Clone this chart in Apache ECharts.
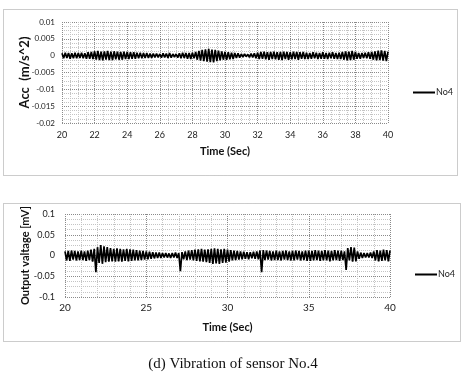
<!DOCTYPE html>
<html lang="en">
<head>
    <meta charset="utf-8">
    <title>Vibration of sensor No.4</title>
    <script src="https://cdn.jsdelivr.net/npm/echarts@6/dist/echarts.min.js"></script>
</head>
<body style="margin:0;background:#fff">
<div id="main" style="width:466px;height:378px"></div>
<script type="text/javascript">
    // sampling of both records
    var t0 = 20, dt = 0.1;

    // acceleration record, m/s^2 (peaks and troughs)
    var accNo4 = [
        0.0007,-0.0008,0.0009,-0.0007,0.0008,-0.0009,0.0007,-0.0008,0.0009,-0.0008,
        0.0008,-0.0007,0.0009,-0.0008,0.0007,-0.0009,0.0010,-0.0009,0.0011,-0.0010,
        0.0013,-0.0012,0.0014,-0.0013,0.0012,-0.0014,0.0013,-0.0012,0.0014,-0.0013,
        0.0012,-0.0013,0.0013,-0.0011,0.0012,-0.0012,0.0011,-0.0012,0.0012,-0.0010,
        0.0011,-0.0010,0.0010,-0.0009,0.0010,-0.0009,0.0009,-0.0008,0.0009,-0.0008,
        0.0008,-0.0007,0.0008,-0.0007,0.0006,-0.0007,0.0006,-0.0005,0.0006,-0.0005,
        0.0005,-0.0006,0.0007,-0.0005,0.0006,-0.0007,0.0008,-0.0006,0.0005,-0.0004,
        0.0005,-0.0006,0.0007,-0.0008,0.0009,-0.0007,0.0008,-0.0009,0.0008,-0.0010,
        0.0009,-0.0008,0.0011,-0.0012,0.0014,-0.0015,0.0017,-0.0016,0.0019,-0.0018,
        0.0020,-0.0019,0.0018,-0.0020,0.0017,-0.0016,0.0015,-0.0014,0.0013,-0.0012,
        0.0011,-0.0012,0.0010,-0.0011,0.0009,-0.0010,0.0008,-0.0007,0.0007,-0.0006,
        0.0005,-0.0004,0.0005,-0.0003,0.0004,-0.0005,0.0006,-0.0005,0.0007,-0.0008,
        0.0009,-0.0010,0.0011,-0.0009,0.0012,-0.0011,0.0010,-0.0012,0.0011,-0.0010,
        0.0012,-0.0011,0.0010,-0.0012,0.0011,-0.0013,0.0012,-0.0010,0.0011,-0.0012,
        0.0010,-0.0011,0.0012,-0.0010,0.0011,-0.0012,0.0010,-0.0009,0.0011,-0.0010,
        0.0009,-0.0010,0.0008,-0.0009,0.0010,-0.0008,0.0009,-0.0010,0.0008,-0.0009,
        0.0010,-0.0009,0.0008,-0.0010,0.0009,-0.0008,0.0010,-0.0009,0.0008,-0.0010,
        0.0009,-0.0010,0.0011,-0.0012,0.0013,-0.0014,0.0012,-0.0013,0.0014,-0.0012,
        0.0011,-0.0009,0.0008,-0.0009,0.0008,-0.0007,0.0009,-0.0008,0.0010,-0.0009,
        0.0011,-0.0012,0.0013,-0.0014,0.0015,-0.0013,0.0016,-0.0015,0.0014,-0.0016,
        0.0012
    ];

    // sensor output record, mV
    var voltNo4 = [
        0.010,-0.012,0.011,-0.013,0.012,-0.010,0.011,-0.012,0.010,-0.011,
        0.012,-0.011,0.010,-0.013,0.012,-0.011,0.014,-0.015,0.016,-0.040,
        0.020,-0.018,0.025,-0.020,0.022,-0.016,0.020,-0.015,0.018,-0.014,
        0.016,-0.015,0.017,-0.014,0.016,-0.015,0.015,-0.013,0.016,-0.014,
        0.015,-0.013,0.014,-0.012,0.013,-0.012,0.012,-0.011,0.011,-0.010,
        0.010,-0.009,0.009,-0.008,0.008,-0.007,0.007,-0.006,0.007,-0.006,
        0.006,-0.005,0.006,-0.005,0.005,-0.006,0.006,-0.005,0.007,-0.006,
        0.006,-0.038,0.008,-0.009,0.010,-0.011,0.012,-0.010,0.013,-0.012,
        0.014,-0.013,0.015,-0.014,0.016,-0.015,0.014,-0.016,0.015,-0.018,
        0.016,-0.020,0.017,-0.019,0.016,-0.020,0.015,-0.018,0.016,-0.017,
        0.014,-0.015,0.013,-0.012,0.012,-0.011,0.011,-0.010,0.010,-0.009,
        0.009,-0.008,0.008,-0.009,0.008,-0.007,0.009,-0.008,0.010,-0.009,
        0.012,-0.040,0.013,-0.011,0.012,-0.010,0.011,-0.012,0.010,-0.011,
        0.012,-0.011,0.010,-0.012,0.011,-0.010,0.012,-0.011,0.010,-0.012,
        0.011,-0.012,0.012,-0.010,0.011,-0.012,0.010,-0.011,0.012,-0.013,
        0.012,-0.013,0.011,-0.012,0.013,-0.011,0.012,-0.013,0.011,-0.012,
        0.013,-0.012,0.012,-0.014,0.011,-0.012,0.013,-0.011,0.012,-0.013,
        0.012,-0.011,0.010,-0.035,0.018,-0.012,0.020,-0.015,0.019,-0.014,
        0.010,-0.008,0.007,-0.006,0.006,-0.005,0.006,-0.005,0.007,-0.006,
        0.010,-0.012,0.013,-0.014,0.012,-0.013,0.014,-0.012,0.013,-0.014,
        0.012
    ];

    var seriesName = 'No4';
    var caption = '(d) Vibration of sensor No.4';

    function pairs(vals) {
        var out = [];
        for (var i = 0; i < vals.length; i++) {
            out.push([+(t0 + i * dt).toFixed(1), vals[i]]);
        }
        return out;
    }

    var font = 'Lato, "Open Sans", sans-serif';
    var majorLine = {show: true, lineStyle: {color: '#8a8a8a', type: 'dotted', width: 1}};
    var minorLine = {show: true, lineStyle: {color: '#c4c4c4', type: 'dotted', width: 1}};
    var tickLbl = {color: '#222', fontFamily: font, fontSize: 9};
    var nameLbl = {color: '#111', fontFamily: font, fontSize: 11, fontWeight: 'bold'};

    var myChart = echarts.init(document.getElementById('main'));

    var option = {
        backgroundColor: '#fff',
        animation: false,
        title: {
            text: caption,
            left: 'center',
            top: 352,
            textStyle: {fontFamily: '"Liberation Serif", serif', fontSize: 15, fontWeight: 'normal', color: '#111'}
        },
        graphic: [
            {type: 'rect', shape: {x: 3.5, y: 9.5, width: 454, height: 166},
                style: {fill: null, stroke: '#999', lineWidth: 1, lineDash: [1, 1]}},
            {type: 'rect', shape: {x: 3.5, y: 203.5, width: 457, height: 138},
                style: {fill: null, stroke: '#999', lineWidth: 1, lineDash: [1, 1]}}
        ],
        legend: [
            {data: [seriesName], left: 408, top: 83, icon: 'rect', itemWidth: 22, itemHeight: 2,
                itemGap: 0, textStyle: {fontFamily: font, fontSize: 9, color: '#222', padding: [0, 0, 0, -4]}},
            {data: [{name: seriesName + ' '}], left: 410, top: 265, icon: 'rect', itemWidth: 22, itemHeight: 2,
                itemGap: 0, textStyle: {fontFamily: font, fontSize: 9, color: '#222', padding: [0, 0, 0, -4]}}
        ],
        grid: [
            {left: 62, top: 22, width: 326, height: 101},
            {left: 65, top: 214, width: 325, height: 83}
        ],
        xAxis: [
            {
                type: 'value', gridIndex: 0, min: 20, max: 40, interval: 2,
                name: 'Time (Sec)', nameLocation: 'middle', nameGap: 23, nameTextStyle: nameLbl,
                nameMoveOverlap: false,
                axisLine: {show: false}, axisTick: {show: false},
                axisLabel: Object.assign({margin: 8}, tickLbl),
                splitLine: majorLine, minorTick: {show: false, splitNumber: 4}, minorSplitLine: minorLine
            },
            {
                type: 'value', gridIndex: 1, min: 20, max: 40, interval: 5,
                name: 'Time (Sec)', nameLocation: 'middle', nameGap: 25, nameTextStyle: nameLbl,
                nameMoveOverlap: false,
                axisLine: {show: false}, axisTick: {show: false},
                axisLabel: Object.assign({margin: 6}, tickLbl, {fontSize: 10}),
                splitLine: majorLine, minorTick: {show: false, splitNumber: 5}, minorSplitLine: minorLine
            }
        ],
        yAxis: [
            {
                type: 'value', gridIndex: 0, min: -0.02, max: 0.01, interval: 0.005,
                name: 'Acc  (m/s^2)', nameLocation: 'middle', nameGap: 31,
                nameMoveOverlap: false,
                nameTextStyle: Object.assign({}, nameLbl, {fontSize: 13}),
                axisLine: {show: false}, axisTick: {show: false},
                axisLabel: Object.assign({margin: 7}, tickLbl, {fontSize: 8}),
                splitLine: majorLine, minorTick: {show: false, splitNumber: 4}, minorSplitLine: minorLine
            },
            {
                type: 'value', gridIndex: 1, min: -0.1, max: 0.1, interval: 0.05,
                name: 'Output valtage [mV]', nameLocation: 'middle', nameGap: 34, nameTextStyle: nameLbl,
                nameMoveOverlap: false,
                axisLine: {show: false}, axisTick: {show: false},
                axisLabel: Object.assign({margin: 10}, tickLbl),
                splitLine: majorLine, minorTick: {show: false, splitNumber: 4}, minorSplitLine: minorLine
            }
        ],
        series: [
            {
                name: seriesName, type: 'line', xAxisIndex: 0, yAxisIndex: 0,
                showSymbol: false, symbol: 'none',
                itemStyle: {color: '#000'},
                lineStyle: {color: '#000', width: 1.7},
                data: pairs(accNo4)
            },
            {
                name: seriesName + ' ', type: 'line', xAxisIndex: 1, yAxisIndex: 1,
                showSymbol: false, symbol: 'none',
                itemStyle: {color: '#000'},
                lineStyle: {color: '#000', width: 1.7},
                data: pairs(voltNo4)
            }
        ]
    };

    myChart.setOption(option);
</script>
</body>
</html>
